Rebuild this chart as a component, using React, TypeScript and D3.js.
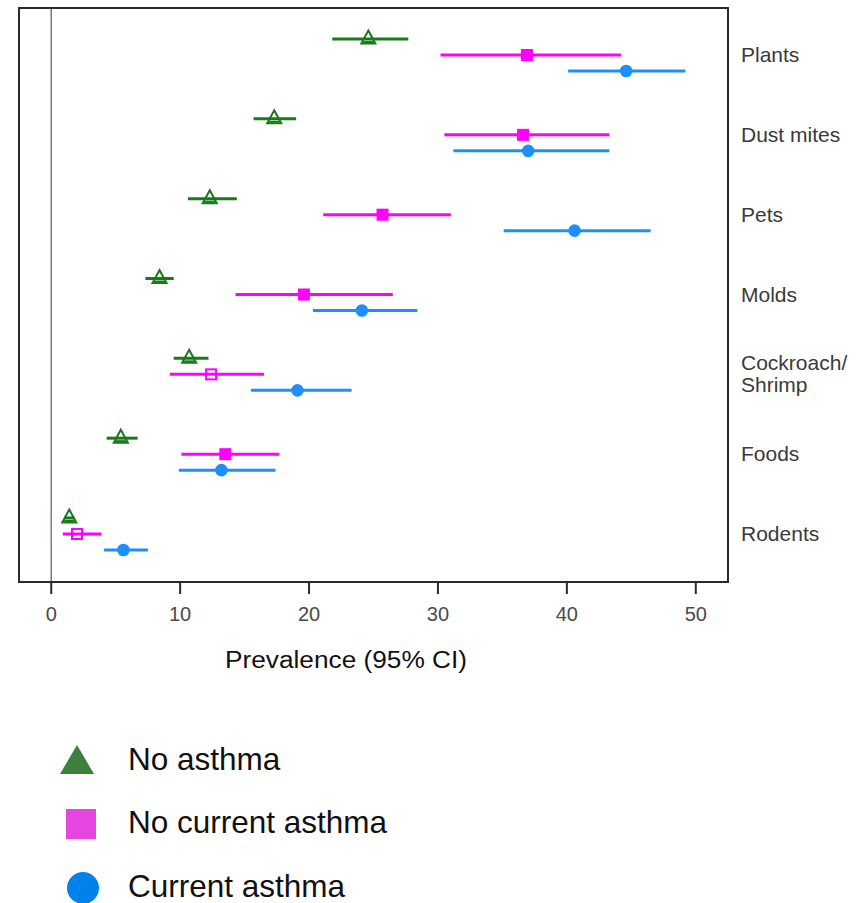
import React from "react";
import * as d3 from "d3";

// Allergen categories (top to bottom)
const categories = ["Plants", "Dust mites", "Pets", "Molds", "Cockroach/\nShrimp", "Foods", "Rodents"];

// Series: prevalence estimate with 95% CI bounds
const seriesNames = ["No asthma", "No current asthma", "Current asthma"];

const noAsthmaEst = [24.6, 17.3, 12.3, 8.4, 10.7, 5.4, 1.4];
const noAsthmaLo = [21.8, 15.7, 10.6, 7.3, 9.5, 4.3, 1.0];
const noAsthmaHi = [27.7, 19.0, 14.4, 9.5, 12.2, 6.7, 1.8];

const noCurrentEst = [36.9, 36.6, 25.7, 19.6, 12.4, 13.5, 2.0];
const noCurrentLo = [30.2, 30.5, 21.1, 14.3, 9.2, 10.1, 0.9];
const noCurrentHi = [44.2, 43.3, 31.0, 26.5, 16.5, 17.7, 3.9];
// Estimates drawn with hollow markers
const noCurrentOpen = [false, false, false, false, true, false, true];

const currentEst = [44.6, 37.0, 40.6, 24.1, 19.1, 13.2, 5.6];
const currentLo = [40.1, 31.2, 35.1, 20.3, 15.5, 9.9, 4.1];
const currentHi = [49.2, 43.3, 46.5, 28.4, 23.3, 17.4, 7.5];

const xTicks = [0, 10, 20, 30, 40, 50];

const FONT = "Arial, 'Liberation Sans', Helvetica, sans-serif";

export default function App() {
  const width = 860;
  const height = 903;
  const frame = { left: 19, top: 8, right: 728, bottom: 582 };

  const x = d3.scaleLinear().domain([-2.5, 52.5]).range([frame.left, frame.right]);
  const y = d3.scalePoint<string>().domain(categories).range([55, 534]);

  const colors = ["#187a18", "#ff00ff", "#1e8ffa"];
  const offsets = [-16, 0, 16];

  const series = [
    { est: noAsthmaEst, lo: noAsthmaLo, hi: noAsthmaHi },
    { est: noCurrentEst, lo: noCurrentLo, hi: noCurrentHi },
    { est: currentEst, lo: currentLo, hi: currentHi },
  ];

  const triPath = (cx: number, cy: number, w: number, h: number) =>
    `M${cx},${cy - h / 2}L${cx + w / 2},${cy + h / 2}L${cx - w / 2},${cy + h / 2}Z`;

  return (
    <svg width={width} height={height} style={{ display: "block", position: "absolute", left: 0, top: 0 }}>
      <rect x={0} y={0} width={width} height={height} fill="#fff" />

      {/* zero reference line */}
      <line x1={x(0)} x2={x(0)} y1={frame.top} y2={frame.bottom} stroke="#7a7a7a" strokeWidth={1.5} />

      {/* CI lines and markers */}
      {series.map((s, si) =>
        categories.map((c, i) => {
          const cy = (y(c) as number) + offsets[si];
          const cx = x(s.est[i]);
          const col = colors[si];
          let marker: React.ReactNode = null;
          if (si === 0) {
            marker = (
              <g>
                <path d={triPath(cx, cy - 2, 14, 13)} fill="none" stroke={col} strokeWidth={2} />
                <line x1={cx - 5} x2={cx + 5} y1={cy + 3} y2={cy + 3} stroke={col} strokeWidth={2} />
              </g>
            );
          } else if (si === 1) {
            marker = noCurrentOpen[i] ? (
              <rect x={cx - 5} y={cy - 5} width={10} height={10} fill="none" stroke={col} strokeWidth={2} />
            ) : (
              <rect x={cx - 6} y={cy - 6} width={12} height={12} fill={col} />
            );
          } else {
            marker = <circle cx={cx} cy={cy} r={6.3} fill={col} />;
          }
          return (
            <g key={`${si}-${i}`}>
              <line x1={x(s.lo[i])} x2={x(s.hi[i])} y1={cy} y2={cy} stroke={col} strokeWidth={3} />
              {marker}
            </g>
          );
        })
      )}

      {/* plot frame */}
      <rect
        x={frame.left}
        y={frame.top}
        width={frame.right - frame.left}
        height={frame.bottom - frame.top}
        fill="none"
        stroke="#2a2a2a"
        strokeWidth={2}
      />

      {/* x axis ticks and labels */}
      {xTicks.map((t) => (
        <g key={t}>
          <line x1={x(t)} x2={x(t)} y1={frame.bottom} y2={frame.bottom + 12} stroke="#2a2a2a" strokeWidth={2} />
          <text x={x(t)} y={621} textAnchor="middle" fontFamily={FONT} fontSize={20} fill="#4a4a4a">
            {t}
          </text>
        </g>
      ))}

      <text x={346} y={668} textAnchor="middle" fontFamily={FONT} fontSize={23} fill="#111" textLength={242} lengthAdjust="spacingAndGlyphs">
        Prevalence (95% CI)
      </text>

      {/* category labels */}
      {categories.map((c) => {
        const lines = c.split("\n");
        const cy = y(c) as number;
        const lh = 22;
        const base = cy + 7 - ((lines.length - 1) * lh) / 2;
        return (
          <text key={c} x={741} fontFamily={FONT} fontSize={21} fill="#3a3a3a">
            {lines.map((ln, k) => (
              <tspan key={k} x={741} y={base + k * lh}>
                {ln}
              </tspan>
            ))}
          </text>
        );
      })}

      {/* legend */}
      <g>
        <path d={triPath(77, 759.5, 34, 29)} fill="#3d7f3d" />
        <text x={128} y={770} fontFamily={FONT} fontSize={31.5} fill="#111">{seriesNames[0]}</text>
        <rect x={66} y={809} width={30} height={30} fill="#e645e0" />
        <text x={128} y={833} fontFamily={FONT} fontSize={31.5} fill="#111">{seriesNames[1]}</text>
        <circle cx={83} cy={888} r={16} fill="#0083e8" />
        <text x={128} y={897} fontFamily={FONT} fontSize={31.5} fill="#111">{seriesNames[2]}</text>
      </g>
    </svg>
  );
}
